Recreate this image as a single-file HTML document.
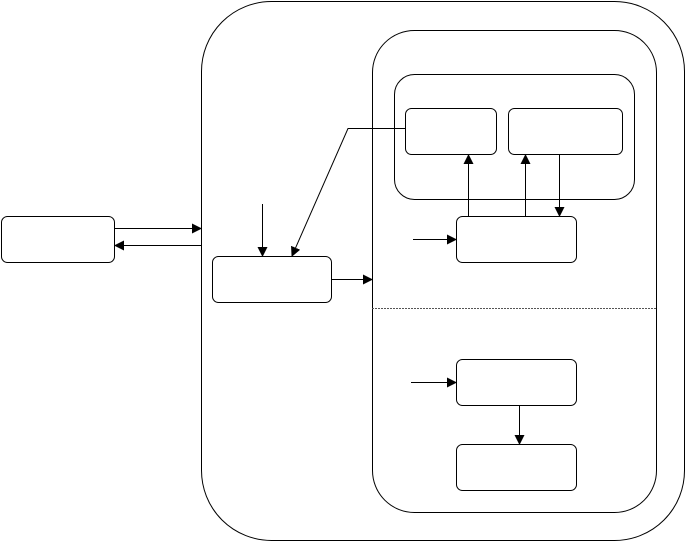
<!DOCTYPE html>
<html><head><meta charset="utf-8"><style>html,body{margin:0;padding:0;background:#fff}svg{display:block}</style></head>
<body>
<svg width="686" height="543" viewBox="0 0 686 543" xmlns="http://www.w3.org/2000/svg">
<defs><marker id="a" markerWidth="10" markerHeight="10" refX="9" refY="5" orient="auto" markerUnits="userSpaceOnUse"><path d="M0,0 L10,5 L0,10 z" fill="#000"/></marker></defs>
<g fill="none" stroke="#000" stroke-width="1">
<rect x="201.5" y="1.5" width="483" height="539" rx="70" ry="70"/>
<rect x="372.5" y="30.5" width="284" height="482" rx="42" ry="42"/>
<rect x="394.5" y="74.5" width="240" height="125" rx="20" ry="20"/>
<rect x="405.5" y="108.5" width="91" height="46" rx="6"/>
<rect x="508.5" y="108.5" width="114" height="46" rx="6"/>
<rect x="456.5" y="216.5" width="120" height="46" rx="6"/>
<rect x="212.5" y="256.5" width="119" height="46" rx="6"/>
<rect x="1.5" y="216.5" width="113" height="46" rx="6"/>
<rect x="456.5" y="359.5" width="120" height="46" rx="6"/>
<rect x="456.5" y="444.5" width="120" height="46" rx="6"/>
<line x1="372" y1="308.5" x2="656" y2="308.5" stroke-dasharray="2,1" stroke="#555"/>
<line x1="114" y1="228.5" x2="201" y2="228.5" marker-end="url(#a)"/>
<line x1="201" y1="245.5" x2="115" y2="245.5" marker-end="url(#a)"/>
<line x1="262.5" y1="204" x2="262.5" y2="256" marker-end="url(#a)"/>
<polyline points="405,128.5 348,128.5 292,256" marker-end="url(#a)"/>
<line x1="331" y1="279.5" x2="372" y2="279.5" marker-end="url(#a)"/>
<line x1="468.5" y1="216" x2="468.5" y2="155" marker-end="url(#a)"/>
<line x1="525.5" y1="216" x2="525.5" y2="155" marker-end="url(#a)"/>
<line x1="559.5" y1="154" x2="559.5" y2="216" marker-end="url(#a)"/>
<line x1="413" y1="239.5" x2="456" y2="239.5" marker-end="url(#a)"/>
<line x1="411" y1="382.5" x2="456" y2="382.5" marker-end="url(#a)"/>
<line x1="519.5" y1="405" x2="519.5" y2="444" marker-end="url(#a)"/>
</g>
</svg>
</body></html>
